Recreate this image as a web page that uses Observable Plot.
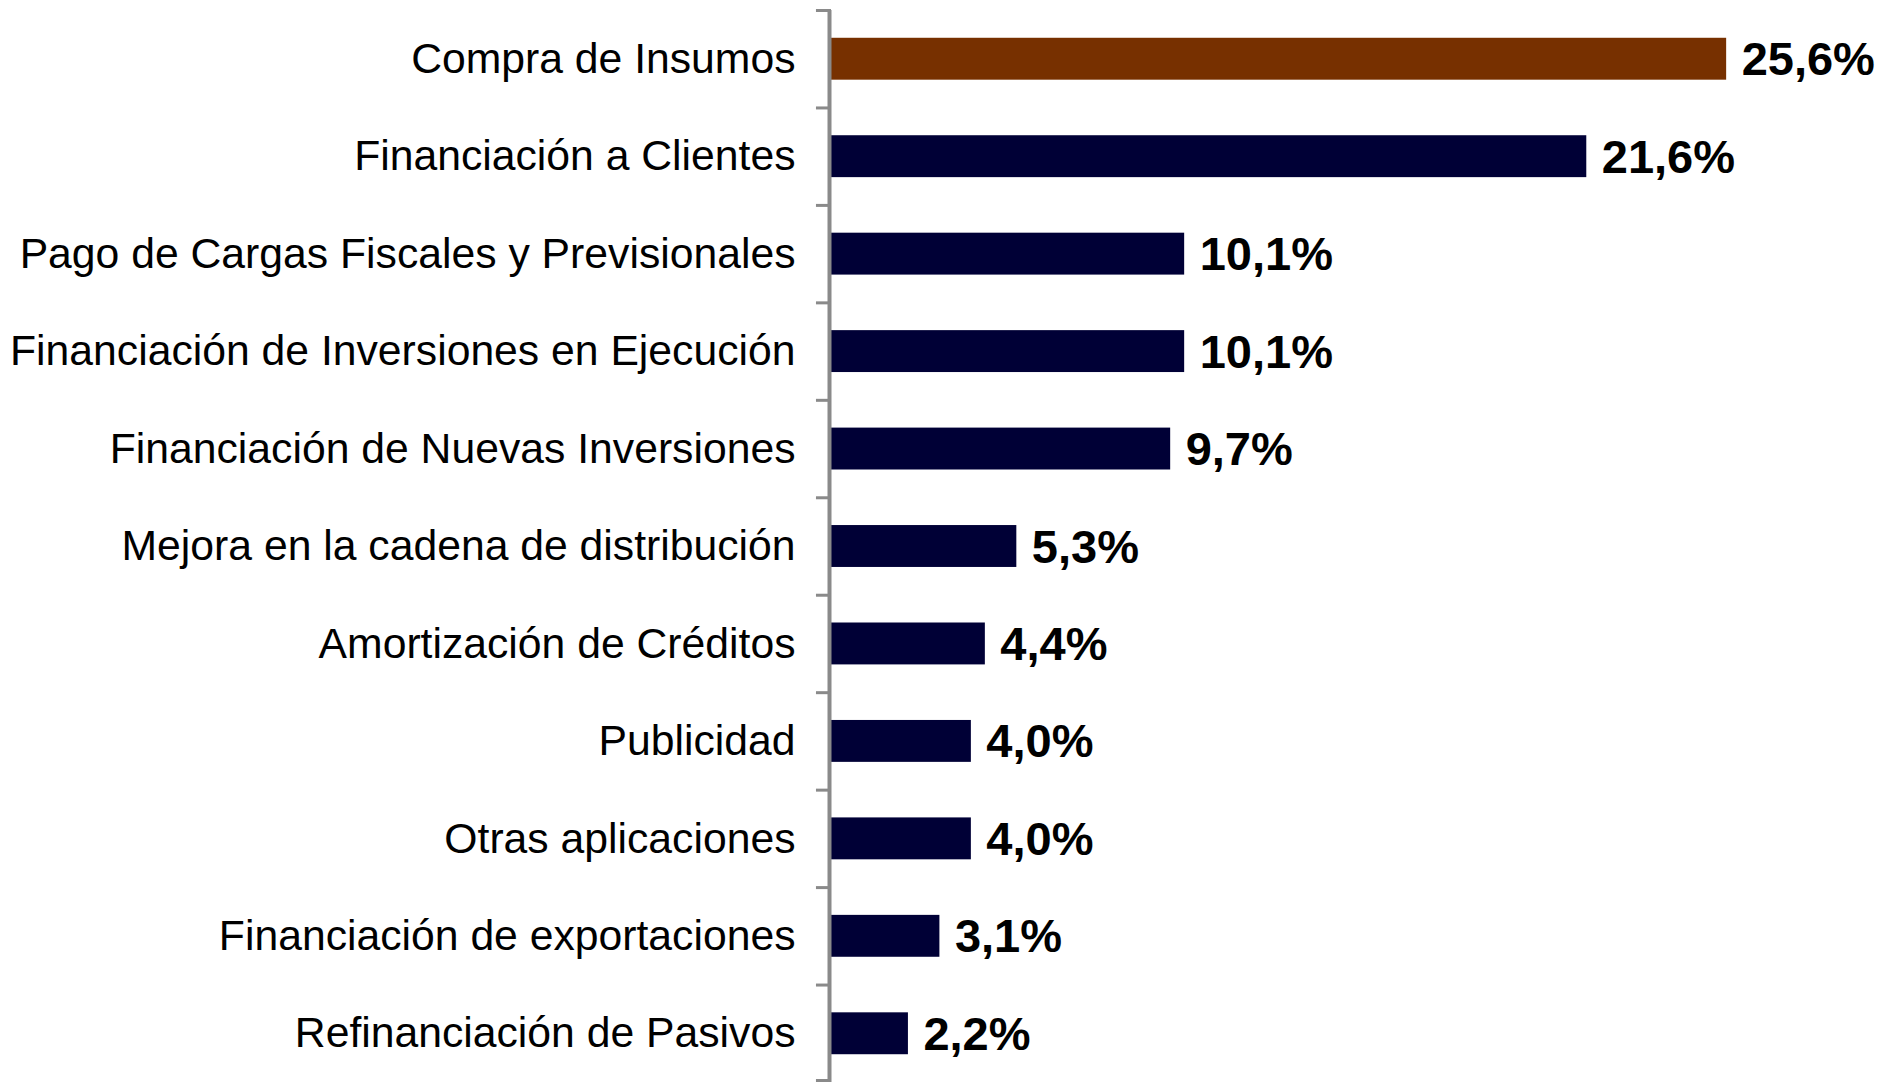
<!DOCTYPE html>
<html>
<head>
<meta charset="utf-8">
<script src="https://cdn.jsdelivr.net/npm/d3@7"></script>
<script src="https://cdn.jsdelivr.net/npm/@observablehq/plot@0.6"></script>
<style>
  html, body { margin: 0; padding: 0; background: #fff; }
  #chart svg { display: block; }
</style>
</head>
<body>
<div id="chart"></div>
<script>
const categories = [
  "Compra de Insumos",
  "Financiación a Clientes",
  "Pago de Cargas Fiscales y Previsionales",
  "Financiación de Inversiones en Ejecución",
  "Financiación de Nuevas Inversiones",
  "Mejora en la cadena de distribución",
  "Amortización de Créditos",
  "Publicidad",
  "Otras aplicaciones",
  "Financiación de exportaciones",
  "Refinanciación de Pasivos"
];
const values = [25.6, 21.6, 10.1, 10.1, 9.7, 5.3, 4.4, 4.0, 4.0, 3.1, 2.2];
const highlight = ["Compra de Insumos"];

const data = categories.map((c, i) => ({category: c, value: values[i]}));
const fmt = v => v.toFixed(1).replace(".", ",") + "%";

const W = 1883, H = 1082;
const mTop = 10, mBottom = 0;
const n = categories.length;
const step = (H - mTop - mBottom) / n;

const chart = Plot.plot({
  width: W,
  height: H,
  marginLeft: 831,
  marginRight: 3,
  marginTop: mTop,
  marginBottom: mBottom,
  style: {fontFamily: "'Liberation Sans', Arial, sans-serif", background: "#fff", color: "#000"},
  x: {domain: [0, 30], axis: null},
  y: {domain: categories, paddingInner: 0.57, paddingOuter: 0.285, round: false, label: null},
  marks: [
    Plot.barX(data, {
      y: "category", x: "value",
      fill: d => highlight.includes(d.category) ? "#773000" : "#000036"
    }),
    Plot.text(data, {
      y: "category", x: "value", text: d => fmt(d.value),
      textAnchor: "start", dx: 15, dy: 1,
      fontSize: 47, fontWeight: "bold", fill: "#000"
    }),
    Plot.axisY({tickSize: 0, tickPadding: 36, fontSize: 42.7, fill: "#000", label: null}),
    // axis line
    Plot.ruleX([0], {stroke: "#8a8a8a", strokeWidth: 4, dx: -2}),
    // ticks at band boundaries
    Plot.ruleY(categories, {y: d => d, x1: -0.43, x2: 0, dy: -step / 2, stroke: "#8a8a8a", strokeWidth: 3}),
    Plot.ruleY(categories.slice(-1), {y: d => d, x1: -0.43, x2: 0, dy: step / 2 - 2, stroke: "#8a8a8a", strokeWidth: 3})
  ]
});
document.getElementById("chart").appendChild(chart);
</script>
</body>
</html>
